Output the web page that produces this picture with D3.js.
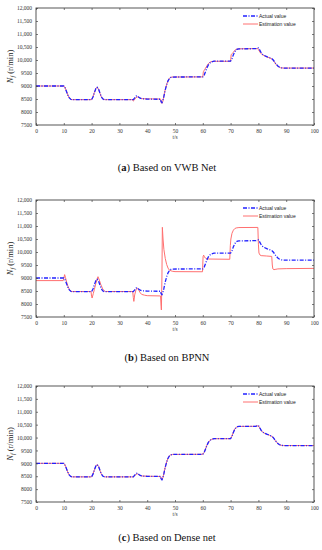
<!DOCTYPE html>
<html>
<head>
<meta charset="utf-8">
<script src="https://cdn.jsdelivr.net/npm/d3@7"></script>
<style>
 body { margin:0; background:#fff; }
 svg { display:block; }
</style>
</head>
<body>
<svg width="322" height="550"></svg>
<script>
// time (s) / speed (r/min)
var actual = [[0,9000],[10,9000],[10.5,8920],[11,8780],[11.5,8640],[12,8540],[12.5,8490],[13,8475],
 [20,8475],[20.5,8580],[21,8740],[21.5,8890],[22,8950],[22.5,8880],[23,8730],[23.5,8590],[24,8510],[24.5,8480],[25,8475],
 [35,8475],[35.5,8540],[36,8610],[36.5,8620],[37,8570],[37.5,8530],[38,8510],[40,8495],[44.8,8490],
 [45,8400],[45.3,8360],[45.6,8420],[46,8600],[46.5,8850],[47,9050],[47.5,9200],[48,9290],[48.5,9330],[49,9345],
 [60,9350],[60.5,9420],[61,9560],[61.5,9700],[62,9810],[62.5,9880],[63,9920],[63.5,9940],[64,9955],
 [70,9955],[70.5,10050],[71,10200],[71.5,10320],[72,10390],[72.5,10420],[73,10430],[79,10435],[79.5,10450],[80,10465],
 [80.5,10380],[81,10280],[81.5,10220],[82,10180],[83,10130],[84,10090],[85,10040],[85.5,9980],[86,9900],[86.5,9830],
 [87,9770],[87.5,9730],[88,9705],[88.5,9695],[89,9690],[100,9690]];

var estVWB = [[0,9000],[10,9000],[10.5,8930],[11,8790],[11.5,8640],[12,8540],[12.5,8490],[13,8475],
 [20,8475],[20.5,8590],[21,8750],[21.5,8900],[22,8960],[22.5,8880],[23,8720],[23.5,8580],[24,8505],[24.5,8480],[25,8475],
 [34.8,8475],[35,8420],[35.3,8450],[35.8,8540],[36.5,8580],[37,8560],[37.5,8530],[38,8515],[40,8505],[44.8,8500],
 [45,8380],[45.3,8330],[45.6,8400],[46,8620],[46.5,8870],[47,9060],[47.5,9210],[48,9300],[48.5,9335],[49,9345],
 [60,9350],[60.2,9550],[60.6,9620],[61,9690],[61.5,9780],[62,9860],[62.5,9910],[63,9935],[64,9950],
 [70,9950],[70.2,10200],[70.6,10250],[71,10300],[71.5,10370],[72,10410],[73,10430],[79.8,10440],
 [80,10400],[80.5,10310],[81,10240],[81.5,10200],[82,10170],[83,10120],[84,10080],[85,10030],[85.5,9960],[86,9880],
 [86.5,9810],[87,9760],[87.5,9725],[88,9700],[89,9690],[100,9690]];

var estBPNN = [[0,8900],[9.8,8900],[10,9000],[10.3,9130],[10.6,9020],[11,8850],[11.5,8680],[12,8560],[12.5,8500],[13,8480],
 [19.8,8480],[20,8280],[20.2,8230],[20.6,8400],[21,8560],[21.5,8780],[22,8960],[22.3,9050],[22.8,8920],[23.3,8750],[24,8580],[24.5,8510],[25,8480],
 [34.8,8480],[35,8250],[35.2,8100],[35.5,8350],[36,8560],[36.5,8610],[37,8520],[37.5,8430],[38,8370],[39,8340],[40,8320],[44.8,8310],
 [45,7900],[45.1,7770],[45.3,9000],[45.45,10950],[45.7,10500],[46,10100],[46.5,9750],[47,9520],[47.5,9380],[48,9300],[49,9260],[50,9245],
 [59.9,9240],[60.1,9820],[60.3,9880],[60.6,9810],[61,9760],[62,9730],[69.7,9720],
 [69.9,10250],[70.1,10500],[70.5,10720],[71,10840],[71.5,10900],[72,10925],[73,10940],[79.8,10945],
 [80,10300],[80.2,9960],[80.6,9880],[81,9860],[83,9845],[84.8,9830],[85,9500],[85.2,9350],[85.6,9320],[86,9330],[87,9350],[90,9360],[100,9370]];

var estDense = [[0,9000],[10,9000],[10.5,8925],[11,8785],[11.5,8640],[12,8540],[12.5,8490],[13,8475],
 [20,8475],[20.5,8585],[21,8745],[21.5,8895],[22,8955],[22.5,8880],[23,8725],[23.5,8585],[24,8508],[24.5,8480],[25,8475],
 [35,8475],[35.5,8520],[36,8570],[36.5,8590],[37,8560],[37.5,8530],[38,8510],[40,8500],[44.8,8490],
 [45,8410],[45.3,8370],[45.6,8430],[46,8610],[46.5,8860],[47,9055],[47.5,9205],[48,9295],[48.5,9332],[49,9345],
 [60,9350],[60.5,9430],[61,9570],[61.5,9710],[62,9815],[62.5,9885],[63,9922],[63.5,9942],[64,9955],
 [70,9955],[70.5,10060],[71,10210],[71.5,10330],[72,10395],[72.5,10422],[73,10432],[79,10437],[79.5,10450],[80,10455],
 [80.5,10370],[81,10275],[81.5,10215],[82,10178],[83,10128],[84,10088],[85,10035],[85.5,9975],[86,9895],[86.5,9825],
 [87,9765],[87.5,9728],[88,9704],[88.5,9694],[89,9690],[100,9690]];

var xTicks = [0,10,20,30,40,50,60,70,80,90,100];
var yTicks = [7500,8000,8500,9000,9500,10000,10500,11000,11500,12000];
var yTickLabels = ["7500","8000","8500","9000","9500","10,000","10,500","11,000","11,500","12,000"];
var captions = [["a"," Based on VWB Net"],["b"," Based on BPNN"],["c"," Based on Dense net"]];
var legendNames = ["Actual value","Estimation value"];

var panels = [
  {top:8, bottom:125, est:estVWB, cap:167},
  {top:200, bottom:317, est:estBPNN, cap:357},
  {top:386, bottom:502, est:estDense, cap:537}
];

var svg = d3.select("svg");
var left = 36, right = 314;
var blue = "#2222ff", red = "#ff7070";

panels.forEach(function(p, i){
  var x = d3.scaleLinear().domain([0,100]).range([left,right]);
  var y = d3.scaleLinear().domain([7500,12000]).range([p.bottom,p.top]);
  var g = svg.append("g");

  var line = d3.line().x(function(d){ return x(d[0]); }).y(function(d){ return y(d[1]); });

  g.append("path").datum(p.est)
    .attr("d", line).attr("fill","none").attr("stroke",red).attr("stroke-width",1);
  g.append("path").datum(actual)
    .attr("d", line).attr("fill","none").attr("stroke",blue).attr("stroke-width",1.3)
    .attr("stroke-dasharray","4,1.5,1,1.5");

  // frame + inward ticks on every side
  g.append("rect").attr("x",left).attr("y",p.top).attr("width",right-left).attr("height",p.bottom-p.top)
    .attr("fill","none").attr("stroke","#444").attr("stroke-width",0.9);

  var ax = function(axis, tr){
    var a = g.append("g").attr("transform",tr).call(axis);
    a.select(".domain").remove();
    a.selectAll("line").attr("stroke","#444").attr("stroke-width",0.7);
    return a;
  };
  var xb = ax(d3.axisBottom(x).tickValues(xTicks).tickSizeInner(-2).tickPadding(4), "translate(0,"+p.bottom+")");
  xb.selectAll("text").attr("font-family","Liberation Serif").attr("font-size",5.5).attr("fill","#333");
  ax(d3.axisTop(x).tickValues(xTicks).tickSizeInner(-2).tickFormat(""), "translate(0,"+p.top+")");
  var yl = ax(d3.axisLeft(y).tickValues(yTicks).tickSizeInner(-2).tickPadding(4)
      .tickFormat(function(d,j){ return yTickLabels[j]; }), "translate("+left+",0)");
  yl.selectAll("text").attr("font-family","Liberation Serif").attr("font-size",5.5).attr("fill","#333");
  ax(d3.axisRight(y).tickValues(yTicks).tickSizeInner(-2).tickFormat(""), "translate("+right+",0)");

  // axis titles
  var yt = g.append("text").attr("transform","translate(13,"+((p.top+p.bottom)/2)+") rotate(-90)")
    .attr("text-anchor","middle").attr("font-family","Liberation Serif").attr("font-size",8.5).attr("fill","#222");
  yt.append("tspan").attr("font-style","italic").text("N");
  yt.append("tspan").attr("font-style","italic").attr("font-size",6).attr("dy",1.7).text("f");
  yt.append("tspan").attr("dy",-1.7).text(" (r/min)");

  g.append("text").attr("x",(left+right)/2).attr("y",p.bottom+14).attr("text-anchor","middle")
    .attr("font-family","Liberation Serif").attr("font-size",5.5).attr("fill","#333").text("t/s");

  // legend
  var lg = g.append("g");
  [blue, red].forEach(function(c, k){
    var ly = p.top + 8 + k*8;
    lg.append("line").attr("x1",243).attr("x2",258).attr("y1",ly).attr("y2",ly)
      .attr("stroke",c).attr("stroke-width",k==0?1.3:1)
      .attr("stroke-dasharray",k==0?"4,1.5,1,1.5":null);
    lg.append("text").attr("x",259).attr("y",ly+1.8).attr("font-family","Liberation Sans")
      .attr("font-size",5).attr("fill","#222").text(legendNames[k]);
  });

  // caption
  var ct = g.append("text").attr("x",167).attr("y",p.cap+3.5).attr("text-anchor","middle")
    .attr("font-family","Liberation Serif").attr("font-size",10.5).attr("fill","#111");
  ct.append("tspan").text("(");
  ct.append("tspan").attr("font-weight","bold").text(captions[i][0]);
  ct.append("tspan").text(")" + captions[i][1]);
});
</script>
</body>
</html>
